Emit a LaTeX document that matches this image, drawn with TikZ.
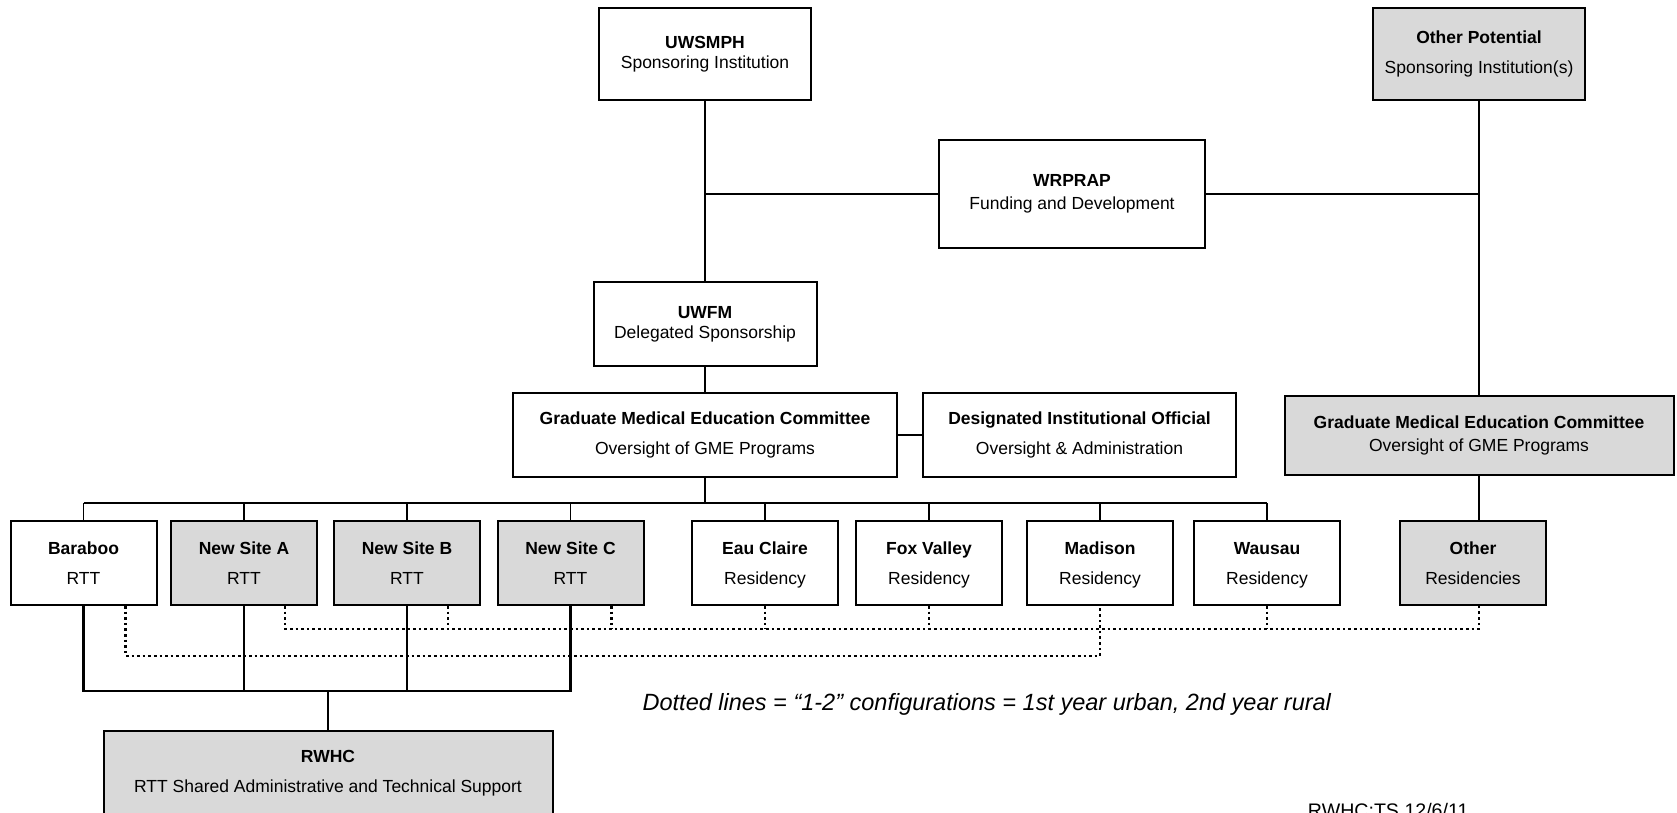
\documentclass[tikz,border=0pt]{standalone}
\usepackage{fontspec}
\setmainfont{Liberation Sans}
\definecolor{boxgray}{RGB}{217,217,217}
\tikzset{every picture/.style={line width=1.9pt}}
\tikzset{
  unit/.style={draw, line width=2pt, fill=white, align=center, inner sep=0pt,
    font=\fontsize{17.5}{20}\selectfont, minimum width=146pt, minimum height=84pt},
  shaded/.style={unit, fill=boxgray},
  trunk/.style={line width=2.8pt},
  oneTwo/.style={line width=2.8pt, dash pattern=on 2.6pt off 3pt},
}

\begin{document}
\begin{tikzpicture}[x=1pt,y=1pt,yscale=-1,xscale=1]
        \useasboundingbox (0,0) rectangle (1677,813);

        % Sponsors
        \node[unit, minimum width=212pt, minimum height=92pt] (uwsmph) at (705,54.5) {\textbf{UWSMPH}\\Sponsoring Institution};
        \node[shaded, minimum width=212pt, minimum height=92pt] (otherpot) at (1479,54) {\textbf{Other Potential}\\[10pt]Sponsoring Institution(s)};
        \node[unit, minimum width=266pt, minimum height=107pt] (wrprap) at (1072,194) {\textbf{WRPRAP}\\[3pt]Funding and Development};
        \node[unit, minimum width=223pt, minimum height=84pt] (uwfm) at (705,324) {\textbf{UWFM}\\Delegated Sponsorship};

        % Committees
        \node[unit, minimum width=384pt, minimum height=84pt] (gme) at (705,435) {\textbf{Graduate Medical Education Committee}\\[10pt]Oversight of GME Programs};
        \node[unit, minimum width=313pt, minimum height=84pt] (dio) at (1079.5,435) {\textbf{Designated Institutional Official}\\[10pt]Oversight \& Administration};
        \node[shaded, minimum width=389pt, minimum height=79pt] (gmeR) at (1479,435.5) {\textbf{Graduate Medical Education Committee}\\[3pt]Oversight of GME Programs};

        % Programs
        \node[unit] (baraboo) at (83.5,563) {\textbf{Baraboo}\\[10pt]RTT};
        \node[shaded] (siteA) at (244,563) {\textbf{New Site A}\\[10pt]RTT};
        \node[shaded] (siteB) at (407,563) {\textbf{New Site B}\\[10pt]RTT};
        \node[shaded] (siteC) at (570.5,563) {\textbf{New Site C}\\[10pt]RTT};
        \node[unit] (eauclaire) at (765,563) {\textbf{Eau Claire}\\[10pt]\smash{Residency}};
        \node[unit] (foxvalley) at (929,563) {\textbf{Fox Valley}\\[10pt]\smash{Residency}};
        \node[unit] (madison) at (1100,563) {\textbf{Madison}\\[10pt]\smash{Residency}};
        \node[unit] (wausau) at (1267,563) {\textbf{Wausau}\\[10pt]\smash{Residency}};
        \node[shaded] (otherres) at (1473,563) {\textbf{Other}\\[10pt]Residencies};

        % Support
        \node[shaded, minimum width=449pt, minimum height=85pt] (rwhc) at (328,773) {\textbf{RWHC}\\[10pt]RTT Shared Administrative and Technical Support};

        % Text Node
        \node[anchor=base west, inner sep=0pt, font=\fontsize{23.5}{28}\selectfont\itshape] (legend) at (641.7,710) {Dotted lines = “1-2” configurations = 1st year urban, 2nd year rural};
        % Text Node
        \node[anchor=north west, inner sep=0pt, font=\fontsize{19.6}{24}\selectfont] (stamp) at (1307,802) {RWHC:TS 12/6/11};

        % Sponsor lines
        \draw (uwsmph) -- (uwfm);
        \draw (wrprap.west) -- (wrprap.west -| uwsmph.south);
        \draw (wrprap.east) -- (wrprap.east -| otherpot.south);
        \draw (otherpot) -- (gmeR);
        \draw[trunk] (uwfm) -- (gme);
        \draw (gme) -- (dio);
        \draw (gmeR.south) -- (gmeR.south |- otherres.north);

        % Bus to programs
        \coordinate (bus) at (705,503);
        \draw[trunk] (gme.south) -- (bus);
        \draw[trunk] (baraboo.north |- bus) -- (wausau.north |- bus);
        \draw (baraboo.north) -- (baraboo.north |- bus);
        \draw (siteA.north) -- (siteA.north |- bus);
        \draw (siteB.north) -- (siteB.north |- bus);
        \draw (siteC.north) -- (siteC.north |- bus);
        \draw (eauclaire.north) -- (eauclaire.north |- bus);
        \draw (foxvalley.north) -- (foxvalley.north |- bus);
        \draw (madison.north) -- (madison.north |- bus);
        \draw (wausau.north) -- (wausau.north |- bus);

        % RTT lines to RWHC
        \coordinate (rttjoin) at (328,691);
        \draw[trunk] (baraboo.south) |- (rttjoin) -| (siteC.south);
        \draw[trunk] (siteA.south) -- (siteA.south |- rttjoin);
        \draw[trunk] (siteB.south) -- (siteB.south |- rttjoin);
        \draw[trunk] (rttjoin) -- (rwhc.north);

        % Dotted 1-2 lines
        \coordinate (uppath) at (0,629);
        \coordinate (lowpath) at (0,656);
        \coordinate (dropBar) at ([xshift=-32pt]baraboo.south east);
        \coordinate (dropA) at ([xshift=-33pt]siteA.south east);
        \coordinate (dropB) at ([xshift=-33pt]siteB.south east);
        \coordinate (dropC) at ([xshift=-33pt]siteC.south east);
        \draw[oneTwo] (dropBar) |- (madison.south |- lowpath) -- (madison.south);
        \draw[oneTwo] (dropA) |- (gmeR.south |- uppath) -- (gmeR.south |- otherres.south);
        \draw[oneTwo] (dropB) -- (dropB |- uppath);
        \draw[oneTwo] (dropC) -- (dropC |- uppath);
        \draw[oneTwo] (eauclaire.south) -- (eauclaire.south |- uppath);
        \draw[oneTwo] (foxvalley.south) -- (foxvalley.south |- uppath);
        \draw[oneTwo] (wausau.south) -- (wausau.south |- uppath);

\end{tikzpicture}
\end{document}
